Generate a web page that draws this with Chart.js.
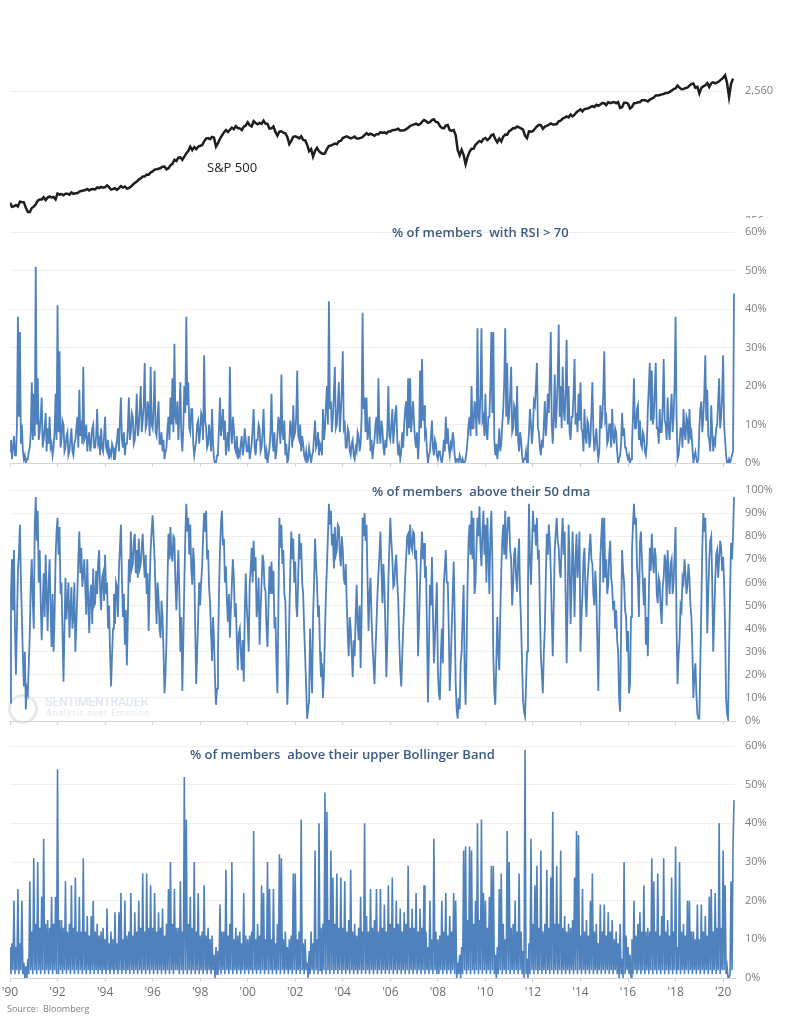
<!DOCTYPE html>
<html>
<head>
<meta charset="utf-8">
<title>S&amp;P 500 breadth</title>
<script src="https://cdn.jsdelivr.net/npm/chart.js@4.4.1/dist/chart.umd.min.js"></script>
<style>
  html, body { margin: 0; padding: 0; background: #fff; }
  body { position: relative; width: 788px; height: 1023px; overflow: hidden; font-family: "Open Sans", sans-serif; }
  canvas { position: absolute; left: 0; }
  .txt { position: absolute; white-space: pre; line-height: 1; }
  .title { color: #3d5a80; font-size: 13px; font-weight: 600; }
  .wm1 { color: #dce3ec; font-size: 12px; font-family: "Liberation Sans Narrow", "Roboto", sans-serif; }
  .wm2 { color: #e2e7ee; font-size: 8.5px; letter-spacing: 0.8px; }
  .wmc { position: absolute; border: 3px solid #e4e8ee; border-radius: 50%; }
</style>
</head>
<body>
<div class="wmc" style="left:8px;top:694px;width:24px;height:24px"></div>
<div class="txt wm1" style="left:45px;top:696px">SENTIMENTRADER</div>
<div class="txt wm2" style="left:46px;top:709px">Analysis over Emotion</div>

<canvas id="spx" width="788" height="228" style="top:0"></canvas>
<canvas id="rsi" width="788" height="252" style="top:218px;background:#fff"></canvas>
<canvas id="dma" width="788" height="258" style="top:470px"></canvas>
<canvas id="bb" width="788" height="276" style="top:728px"></canvas>

<div class="txt" style="left:207px;top:161px;font-size:13px;color:#222">S&amp;P 500</div>
<div class="txt title" style="left:392px;top:226px">% of members  with RSI &gt; 70</div>
<div class="txt title" style="left:372px;top:485px">% of members  above their 50 dma</div>
<div class="txt title" style="left:190px;top:748px">% of members  above their upper Bollinger Band</div>
<div class="txt" style="left:7px;top:1004px;font-size:9px;color:#808080">Source:  Bloomberg</div>

<script>
const startYear = 1990;

// S&P 500, one value per month from Jan 1990
const spx = [
  353, 329, 332, 340, 331, 361, 358, 356, 323, 300, 300, 322,
  330, 344, 367, 375, 375, 390, 371, 388, 395, 388, 392, 375,
  417, 409, 413, 404, 415, 415, 408, 424, 414, 418, 419, 431,
  436, 439, 443, 452, 440, 450, 451, 448, 464, 459, 468, 462,
  466, 481, 467, 446, 451, 457, 444, 458, 475, 463, 472, 454,
  459, 470, 487, 501, 515, 533, 545, 562, 562, 584, 582, 605,
  616, 636, 640, 646, 654, 669, 671, 640, 652, 687, 705, 757,
  741, 786, 791, 757, 801, 848, 885, 954, 899, 947, 915, 955,
  970, 980, 1049, 1102, 1112, 1091, 1134, 1121, 957, 1017, 1099, 1164,
  1229, 1280, 1238, 1286, 1335, 1302, 1373, 1329, 1320, 1283, 1363, 1389,
  1469, 1394, 1366, 1499, 1452, 1421, 1455, 1431, 1518, 1437, 1429, 1315,
  1320, 1366, 1240, 1160, 1249, 1256, 1224, 1211, 1134, 1000, 1060, 1139,
  1148, 1130, 1107, 1147, 1077, 1067, 990, 880, 916, 800, 886, 936,
  880, 856, 841, 848, 917, 964, 975, 990, 1008, 996, 1051, 1058,
  1112, 1131, 1145, 1126, 1107, 1121, 1141, 1102, 1104, 1115, 1130, 1174,
  1212, 1181, 1204, 1181, 1157, 1192, 1191, 1234, 1220, 1229, 1207, 1249,
  1248, 1280, 1281, 1295, 1311, 1270, 1270, 1277, 1304, 1336, 1378, 1401,
  1418, 1438, 1407, 1421, 1482, 1531, 1503, 1455, 1474, 1527, 1549, 1481,
  1468, 1379, 1331, 1323, 1386, 1400, 1280, 1267, 1283, 1166, 900, 820,
  903, 826, 700, 798, 873, 919, 919, 987, 1021, 1057, 1036, 1096,
  1115, 1074, 1104, 1169, 1187, 1089, 1031, 1102, 1049, 1141, 1183, 1181,
  1258, 1286, 1327, 1326, 1364, 1345, 1321, 1292, 1160, 1110, 1253, 1247,
  1258, 1312, 1366, 1408, 1398, 1310, 1362, 1379, 1407, 1441, 1412, 1416,
  1426, 1498, 1515, 1569, 1598, 1631, 1606, 1686, 1633, 1682, 1757, 1806,
  1848, 1783, 1859, 1872, 1884, 1924, 1960, 1931, 2003, 1972, 2018, 2068,
  2059, 1995, 2105, 2068, 2086, 2107, 2063, 2104, 1900, 1920, 2079, 2080,
  2044, 1880, 1932, 2060, 2065, 2097, 2099, 2174, 2171, 2168, 2126, 2199,
  2239, 2279, 2364, 2363, 2384, 2412, 2423, 2470, 2472, 2519, 2575, 2648,
  2674, 2824, 2714, 2641, 2648, 2705, 2718, 2816, 2902, 2914, 2712, 2760,
  2450, 2704, 2784, 2834, 2946, 2752, 2942, 2980, 2926, 2977, 3038, 3141,
  3231, 3380, 2950, 2300, 2912, 3190
];

// breadth series, two values per month from Jan 1990
const rsiAbove70 = [
  3,6, 1,4, 7,2, 2,9, 38,12, 34,5, 10,3, 1,2, 0,1, 1,3, 4,8, 21,6,
  18,7, 51,10, 22,6, 8,12, 17,4, 6,9, 13,3, 9,5, 12,4, 5,2, 4,8, 18,6,
  41,8, 29,4, 6,11, 10,3, 4,7, 8,2, 3,6, 9,3, 2,5, 6,9, 12,4, 19,7,
  11,5, 25,6, 7,10, 3,6, 8,3, 5,9, 10,4, 4,7, 14,5, 6,2, 9,4, 3,7,
  12,4, 3,6, 1,3, 2,5, 4,1, 1,4, 6,9, 3,11, 17,6, 4,8, 2,5, 5,9,
  17,6, 8,13, 12,5, 6,11, 18,7, 9,14, 20,8, 11,15, 26,9, 10,16, 14,7, 25,10,
  9,14, 24,8, 7,12, 16,5, 5,8, 3,6, 1,3, 4,9, 12,6, 17,10, 22,8, 31,12,
  10,16, 6,12, 21,7, 3,9, 20,13, 38,15, 21,9, 8,14, 14,5, 2,4, 6,10, 11,5,
  8,13, 12,6, 28,11, 9,4, 5,10, 7,3, 14,5, 1,0, 0,2, 3,9, 17,7, 10,14,
  6,11, 2,5, 8,3, 25,9, 5,12, 9,4, 3,7, 1,3, 2,5, 7,2, 4,9, 6,3,
  3,7, 1,3, 5,9, 14,4, 2,6, 6,10, 9,3, 4,8, 14,5, 1,3, 0,2, 4,8,
  18,6, 3,8, 1,3, 7,12, 10,5, 23,8, 6,11, 2,5, 0,1, 5,11, 9,4, 15,7,
  8,12, 24,7, 6,10, 3,7, 5,2, 1,3, 0,1, 4,2, 0,2, 3,7, 11,4, 5,8,
  2,5, 4,2, 14,6, 9,15, 20,10, 42,14, 16,8, 12,18, 25,9, 10,15, 21,8, 13,19,
  29,9, 10,4, 4,9, 8,3, 2,5, 6,2, 1,4, 3,8, 7,3, 5,12, 39,14, 17,8,
  17,6, 8,12, 3,6, 1,4, 6,10, 12,5, 22,8, 5,11, 9,4, 2,6, 4,9, 20,7,
  6,10, 14,5, 9,13, 15,6, 2,4, 1,3, 8,4, 10,14, 16,7, 22,9, 22,8, 12,16,
  10,6, 4,8, 1,6, 24,9, 27,11, 15,7, 8,3, 0,2, 3,7, 11,4, 2,6, 5,2,
  1,3, 3,1, 0,2, 6,3, 12,5, 9,4, 2,5, 4,8, 6,2, 0,1, 1,0, 2,1,
  0,1, 0,0, 1,3, 6,10, 12,7, 20,9, 9,16, 14,7, 35,12, 10,18, 35,11, 12,7,
  18,8, 6,12, 12,20, 34,13, 34,6, 2,5, 1,4, 9,3, 5,10, 14,21, 35,12, 26,10,
  12,18, 25,8, 9,15, 14,7, 20,6, 3,8, 6,2, 0,1, 1,3, 0,4, 8,14, 10,5,
  9,16, 15,20, 26,9, 8,4, 2,6, 4,10, 16,7, 11,18, 13,22, 34,10, 5,12, 23,9,
  14,22, 36,12, 20,9, 25,14, 11,19, 32,10, 20,8, 6,12, 12,18, 27,10, 13,8, 18,11,
  21,9, 8,3, 14,7, 5,11, 10,4, 6,13, 21,8, 3,6, 9,4, 1,3, 15,9, 12,18,
  29,11, 12,5, 6,10, 10,4, 14,7, 5,9, 8,3, 0,1, 2,5, 13,7, 9,4, 4,2,
  1,2, 0,1, 5,12, 22,9, 9,14, 15,6, 11,5, 4,8, 7,3, 2,5, 14,20, 26,11,
  24,10, 12,19, 26,9, 9,5, 14,8, 8,15, 27,11, 10,6, 17,9, 6,13, 18,8, 12,20,
  38,12, 1,2, 5,9, 9,4, 14,8, 6,12, 11,5, 14,7, 8,4, 0,2, 3,1, 0,1,
  9,14, 16,8, 12,18, 28,11, 19,7, 6,3, 15,8, 3,6, 5,9, 10,16, 22,9, 12,17,
  28,10, 6,2, 0,0, 1,0, 1,2, 3,44
];

const above50dma = [
  8,55, 70,48, 74,40, 20,42, 65,72, 85,62, 45,28, 15,30, 5,14, 12,25, 38,60, 70,52,
  40,85, 97,78, 91,60, 74,52, 35,50, 64,45, 72,55, 39,60, 70,48, 32,55, 30,45, 70,82,
  88,72, 84,55, 60,38, 17,40, 62,44, 52,60, 36,48, 58,40, 45,60, 30,42, 55,70, 82,64,
  75,58, 63,70, 58,46, 70,52, 38,55, 59,42, 66,50, 51,65, 55,68, 74,56, 48,62, 64,52,
  72,55, 60,40, 50,30, 15,28, 40,55, 42,60, 58,45, 66,75, 85,62, 45,55, 33,48, 24,45,
  70,60, 82,66, 68,78, 81,64, 74,62, 79,66, 68,75, 81,70, 62,72, 55,64, 39,58, 74,82,
  89,80, 70,55, 42,60, 53,40, 36,52, 45,30, 12,20, 35,60, 81,70, 84,72, 69,80, 79,60,
  48,62, 74,55, 30,45, 13,35, 59,80, 94,82, 88,72, 85,66, 59,75, 68,40, 16,30, 45,60,
  50,60, 67,80, 90,82, 91,70, 74,58, 51,38, 26,45, 35,18, 7,14, 30,55, 74,85, 91,76,
  79,60, 67,52, 43,55, 36,48, 59,70, 62,45, 51,35, 22,38, 40,30, 22,35, 17,45, 64,50,
  42,30, 59,66, 75,60, 78,65, 71,45, 50,62, 33,48, 59,72, 69,58, 56,40, 32,50, 67,55,
  69,55, 65,40, 45,25, 12,50, 88,75, 85,68, 74,55, 52,30, 7,20, 45,65, 82,70, 79,60,
  69,50, 45,62, 81,70, 77,60, 55,40, 28,15, 1,5, 9,40, 23,12, 45,60, 79,68, 60,45,
  50,30, 19,25, 10,20, 38,55, 67,80, 94,85, 91,76, 81,66, 84,72, 74,85, 84,72, 67,80,
  74,62, 59,68, 51,38, 28,45, 40,30, 19,35, 28,45, 59,42, 35,50, 23,45, 88,80, 90,78,
  85,60, 39,55, 62,45, 33,25, 16,30, 42,55, 64,72, 82,66, 51,68, 59,40, 19,35, 60,75,
  88,78, 71,58, 59,68, 72,60, 52,35, 22,15, 28,40, 50,62, 71,80, 81,72, 85,76, 74,82,
  81,70, 74,60, 28,42, 59,72, 82,70, 77,62, 67,40, 8,30, 59,50, 71,48, 25,35, 48,60,
  22,12, 9,28, 40,25, 59,66, 74,60, 60,40, 13,25, 40,55, 69,45, 16,5, 1,10, 5,25,
  30,45, 59,22, 7,30, 60,78, 85,72, 91,70, 88,55, 60,75, 88,80, 93,75, 67,82, 91,72,
  85,60, 88,72, 55,80, 91,70, 28,12, 7,25, 45,30, 22,45, 65,78, 85,72, 91,70, 80,88,
  88,74, 70,50, 59,72, 75,62, 56,70, 79,55, 42,25, 9,4, 2,15, 30,60, 94,70, 59,75,
  91,82, 85,76, 88,70, 74,48, 28,20, 12,30, 40,62, 81,72, 85,78, 65,45, 28,50, 74,82,
  88,78, 75,65, 62,78, 88,72, 82,55, 25,50, 85,70, 42,58, 82,66, 45,70, 81,62, 70,82,
  30,45, 55,70, 75,55, 45,60, 67,75, 81,70, 68,55, 50,65, 55,35, 13,40, 70,80, 88,60,
  88,62, 70,55, 59,72, 78,62, 58,48, 52,40, 48,35, 30,10, 4,40, 74,65, 60,48, 45,30,
  39,12, 16,45, 74,85, 94,85, 88,68, 60,45, 77,82, 70,60, 50,62, 33,45, 28,55, 75,65,
  81,70, 64,75, 71,55, 51,62, 60,48, 42,58, 62,72, 69,50, 74,62, 55,68, 70,55, 60,72,
  84,40, 16,28, 35,50, 48,62, 60,70, 64,55, 59,68, 62,50, 45,30, 10,20, 25,12, 3,1,
  1,25, 50,75, 90,82, 88,70, 38,55, 70,78, 80,60, 30,45, 60,72, 74,62, 70,78, 75,65,
  71,60, 40,10, 3,1, 30,55, 77,70, 80,97
];

const aboveUpperBand = [
  8,1, 9,2, 20,1, 8,2, 23,1, 9,2, 20,1, 4,0, 3,0, 5,1, 25,2, 12,1,
  31,2, 14,1, 30,2, 13,1, 21,2, 36,1, 14,2, 15,1, 13,2, 21,1, 14,2, 21,1,
  54,1, 15,2, 15,1, 13,2, 25,1, 12,2, 14,1, 24,2, 13,1, 26,2, 12,1, 21,2,
  12,1, 31,2, 12,1, 16,2, 11,1, 16,2, 20,1, 12,2, 14,1, 11,2, 12,1, 13,2,
  10,1, 18,2, 9,1, 12,2, 10,1, 17,2, 9,1, 17,2, 22,1, 10,2, 20,1, 11,2,
  12,1, 22,2, 11,1, 17,2, 12,1, 20,2, 13,1, 27,2, 12,1, 27,2, 13,1, 24,2,
  13,1, 22,2, 12,1, 17,2, 13,1, 18,2, 11,1, 14,2, 23,1, 30,2, 14,1, 23,2,
  13,2, 13,1, 25,2, 12,1, 52,2, 41,1, 14,2, 21,1, 13,2, 30,1, 12,2, 22,1,
  11,2, 12,1, 24,2, 11,1, 13,2, 10,1, 11,2, 6,0, 8,1, 7,2, 19,1, 12,2,
  12,1, 28,2, 11,1, 14,2, 30,1, 10,2, 13,1, 11,2, 12,1, 9,2, 22,1, 11,2,
  10,1, 11,2, 12,1, 38,2, 10,1, 14,2, 11,1, 24,2, 22,1, 10,2, 30,1, 23,2,
  10,1, 23,2, 9,1, 14,2, 32,1, 31,2, 10,1, 12,2, 8,1, 10,2, 11,1, 27,2,
  27,1, 10,2, 12,1, 41,2, 9,1, 10,2, 4,0, 7,1, 12,2, 9,1, 33,2, 10,1,
  40,2, 13,1, 14,2, 48,1, 43,2, 15,1, 33,2, 26,1, 14,2, 27,1, 13,2, 26,1,
  13,2, 25,1, 12,2, 15,1, 28,2, 12,1, 14,2, 11,1, 13,2, 21,1, 12,2, 40,1,
  16,2, 12,1, 23,2, 13,1, 15,2, 23,1, 12,2, 23,1, 13,2, 19,1, 12,2, 24,1,
  14,2, 26,1, 13,2, 20,1, 14,2, 18,1, 12,2, 17,1, 14,2, 29,1, 13,2, 18,1,
  13,2, 22,1, 12,2, 18,1, 13,2, 24,1, 12,2, 8,1, 20,2, 10,1, 36,2, 12,1,
  10,1, 11,2, 20,1, 12,2, 22,1, 11,2, 16,1, 12,2, 22,1, 20,0, 4,1, 6,0,
  8,1, 33,2, 34,1, 15,2, 34,1, 33,2, 14,1, 20,2, 40,1, 15,2, 41,1, 22,2,
  20,1, 13,2, 21,1, 29,2, 29,1, 6,0, 8,1, 23,2, 27,1, 14,2, 10,1, 38,2,
  30,1, 13,2, 14,1, 20,2, 12,1, 27,2, 12,1, 7,0, 59,1, 5,0, 9,1, 36,2,
  14,1, 24,2, 29,1, 13,2, 33,1, 12,2, 14,1, 28,2, 13,1, 26,2, 43,1, 14,2,
  29,1, 14,2, 33,1, 13,2, 16,1, 12,2, 14,1, 13,2, 15,1, 26,2, 38,1, 37,2,
  11,1, 23,2, 12,1, 15,2, 11,1, 20,2, 27,1, 12,2, 14,1, 9,2, 19,1, 12,2,
  19,1, 11,2, 17,1, 12,2, 15,1, 10,2, 12,1, 9,0, 14,1, 5,0, 30,1, 11,2,
  8,1, 6,0, 10,1, 20,2, 11,1, 14,2, 17,1, 12,2, 24,1, 12,2, 13,1, 12,2,
  31,1, 25,2, 12,1, 27,2, 11,1, 16,2, 31,1, 12,2, 15,1, 11,2, 26,1, 12,2,
  34,1, 8,2, 30,1, 12,2, 14,1, 11,2, 20,1, 20,2, 12,1, 12,2, 10,1, 19,2,
  10,1, 19,2, 12,1, 16,2, 11,1, 21,2, 23,1, 12,2, 22,1, 13,2, 40,1, 13,2,
  33,2, 24,1, 3,0, 0,1, 25,2, 34,46
];

const yearTicks = [1990, 1992, 1994, 1996, 1998, 2000, 2002, 2004, 2006, 2008, 2010, 2012, 2014, 2016, 2018, 2020];
const spxTicks = [256, 2560];
const pctTicks60 = [0, 10, 20, 30, 40, 50, 60];
const pctTicks100 = [0, 10, 20, 30, 40, 50, 60, 70, 80, 90, 100];

Chart.defaults.font.family = "'Open Sans', sans-serif";
Chart.defaults.color = '#7f7f7f';

const toPoints = (vals, perYear) => vals.map((v, i) => ({ x: startYear + i / perYear, y: v }));

function xAxis(showLabels) {
  return {
    type: 'linear',
    min: 1990,
    max: 2020.5,
    bounds: 'data',
    afterBuildTicks: axis => { axis.ticks = yearTicks.map(v => ({ value: v })); },
    afterFit: s => { s.paddingLeft = 0; s.paddingRight = 0; },
    grid: { drawOnChartArea: false, drawTicks: true, tickLength: 4, color: '#d4d4d4' },
    border: { display: true, color: '#d4d4d4' },
    ticks: {
      display: showLabels,
      autoSkip: false,
      maxRotation: 0,
      padding: 3,
      color: '#6f6f6f',
      font: { size: 12 },
      callback: v => "'" + String(v).slice(2)
    }
  };
}

function yAxis(tickList, extra) {
  return Object.assign({
    position: 'right',
    afterBuildTicks: axis => { axis.ticks = tickList.map(v => ({ value: v })); },
    // fixed width, and no extra padding from the label heights
    afterFit: s => { s.width = 53; s.paddingTop = 0; s.paddingBottom = 0; },
    grid: { color: '#efefef', drawTicks: false },
    border: { display: false },
    ticks: { padding: 10, color: '#7f7f7f', font: { size: 11 }, callback: v => v + '%' }
  }, extra);
}

function makeChart(id, points, color, width, scales, padding) {
  return new Chart(document.getElementById(id), {
    type: 'line',
    data: {
      datasets: [{
        data: points,
        borderColor: color,
        borderWidth: width,
        pointRadius: 0,
        fill: false,
        tension: 0
      }]
    },
    options: {
      responsive: false,
      animation: false,
      events: [],
      layout: { padding },
      plugins: { legend: { display: false }, tooltip: { enabled: false } },
      scales
    }
  });
}

makeChart('spx', toPoints(spx, 12), '#1e1e1e', 2.5, {
  x: Object.assign(xAxis(false), { display: false }),
  y: yAxis(spxTicks, {
    type: 'logarithmic',
    min: 256,
    max: 8241,
    ticks: { padding: 10, color: '#7f7f7f', font: { size: 11 }, callback: v => Number(v).toLocaleString('en-US') }
  })
}, { left: 10, right: 0, top: 25, bottom: 7 });

makeChart('rsi', toPoints(rsiAbove70, 24), '#4f81bd', 1.8, {
  x: xAxis(false),
  y: yAxis(pctTicks60, { min: 0, max: 60 })
}, { left: 10, right: 0, top: 14, bottom: 3 });

makeChart('dma', toPoints(above50dma, 24), '#4f81bd', 1.8, {
  x: xAxis(false),
  y: yAxis(pctTicks100, { min: 0, max: 100 })
}, { left: 10, right: 0, top: 20, bottom: 3 });

makeChart('bb', toPoints(aboveUpperBand, 24), '#4f81bd', 1.6, {
  x: xAxis(true),
  y: yAxis(pctTicks60, { min: 0, max: 60 })
}, { left: 10, right: 0, top: 18, bottom: 1.6 });
</script>
</body>
</html>
